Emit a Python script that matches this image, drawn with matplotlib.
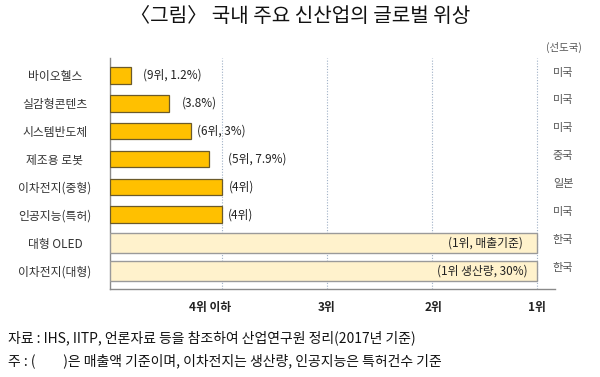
import matplotlib
matplotlib.use('Agg')
import matplotlib.pyplot as plt
import matplotlib.transforms as mtransforms
import numpy as np

plt.rcParams['font.family'] = ['Noto Sans CJK KR', 'DejaVu Sans']

# 데이터
categories = ['바이오헬스', '실감형콘텐츠', '시스템반도체', '제조용 로봇',
              '이차전지(중형)', '인공지능(특허)', '대형 OLED', '이차전지(대형)']
rank_score = [0.14, 0.50, 0.71, 0.88, 1.0, 1.0, 4.0, 4.0]
value_labels = ['(9위, 1.2%)', '(3.8%)', '(6위, 3%)', '(5위, 7.9%)',
                '(4위)', '(4위)', '(1위, 매출기준)', '(1위 생산량, 30%)']
leaders = ['미국', '미국', '미국', '중국', '일본', '미국', '한국', '한국']
rank_ticks = [1, 2, 3, 4]
rank_tick_labels = ['4위 이하', '3위', '2위', '1위']

# 스타일
x0 = -0.06
label_gap = [8.6, 9.4, 4.3, 13.7, 5.0, 4.3, -10.0, -7.0]   # points
tick_dx = [-8, 0, 1, 0]

fig = plt.figure(figsize=(6.0, 3.77), dpi=100)
ax = fig.add_axes([110 / 600, 1 - 289 / 377, 445 / 600, 231 / 377])

y = np.arange(len(categories))
top = rank_score[:6]
big = rank_score[6:]
ax.barh(y[:6], np.array(top) - x0, left=x0, height=0.6,
        color='#FFC000', edgecolor='#6b5a2a', linewidth=0.9, zorder=3)
ax.barh(y[6:], np.array(big) - x0, left=x0, height=0.72,
        color='#FFF2CC', edgecolor='#9a9a9a', linewidth=1.0, zorder=3)

for i, (v, lab) in enumerate(zip(rank_score, value_labels)):
    gap = label_gap[i]
    ax.annotate(lab, xy=(v, y[i]), xytext=(gap, 0), textcoords='offset points',
                ha='left' if gap > 0 else 'right', va='center',
                fontsize=8.5, color='#222222', zorder=4)

for xt in rank_ticks:
    ax.axvline(xt, color='#9fb0c6', linestyle=(0, (1, 1.5)), linewidth=0.8, zorder=1)

for xt, lab, dx in zip(rank_ticks, rank_tick_labels, tick_dx):
    ax.annotate(lab, xy=(xt, 0), xycoords=('data', 'axes fraction'),
                xytext=(dx, -13), textcoords='offset points',
                ha='center', va='center', fontsize=8.5, fontweight='bold', color='#222222')

tr = mtransforms.blended_transform_factory(ax.transAxes, ax.transData)
for i, c in enumerate(leaders):
    ax.text(1.018, y[i] - 0.1, c, transform=tr, ha='center', va='center',
            fontsize=8, color='#555555')
ax.text(1.02, -1.0, '(선도국)', transform=tr, ha='center', va='center',
        fontsize=7.5, color='#555555')

ax.set_xlim(x0, 4.17)
ax.set_ylim(7.66, -0.62)
ax.set_xticks([])
ax.set_yticks(y)
ax.set_yticklabels(categories, fontsize=8.5, color='#333333')
for t in ax.get_yticklabels():
    t.set_ha('center')
ax.tick_params(axis='y', length=0, pad=39.6)

for s in ['top', 'right']:
    ax.spines[s].set_visible(False)
ax.spines['left'].set_color('#8a8a8a')
ax.spines['bottom'].set_color('#8a8a8a')
ax.spines['left'].set_linewidth(1.0)
ax.spines['bottom'].set_linewidth(1.0)

fig.text(0.5, 1 - 17 / 377, '〈그림〉 국내 주요 신산업의 글로벌 위상',
         ha='center', va='center', fontsize=14.5, color='#111111')
fig.text(8 / 600, 1 - 338 / 377,
         '자료 : IHS, IITP, 언론자료 등을 참조하여 산업연구원 정리(2017년 기준)',
         ha='left', va='center', fontsize=10, color='#111111')
fig.text(8 / 600, 1 - 361 / 377,
         '주 : (\u3000\u3000)은 매출액 기준이며, 이차전지는 생산량, 인공지능은 특허건수 기준',
         ha='left', va='center', fontsize=10, color='#111111')

fig.savefig('out.png', dpi=100)
